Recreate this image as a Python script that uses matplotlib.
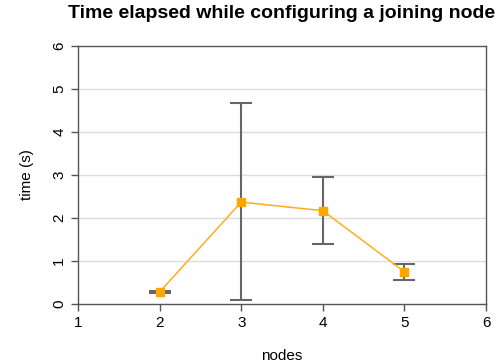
import matplotlib.pyplot as plt
import numpy as np

plt.rcParams['font.family'] = ['Liberation Sans', 'DejaVu Sans']

nodes = [2, 3, 4, 5]
mean_time = [0.28, 2.37, 2.17, 0.75]
low_time = [0.26, 0.09, 1.40, 0.56]
high_time = [0.31, 4.67, 2.96, 0.94]

mean = np.array(mean_time)
yerr = [mean - np.array(low_time), np.array(high_time) - mean]

fig = plt.figure(figsize=(4.99, 3.64), dpi=100)
ax = fig.add_axes([0.1563, 0.1648, 0.8177, 0.7088])

# grid lines
for y in range(1, 6):
    ax.axhline(y, color='#dddddd', lw=1, zorder=0)

ax.errorbar(nodes, mean_time, yerr=yerr, fmt='none', ecolor='#666666',
            elinewidth=1.5, capsize=8, capthick=1.5, zorder=2)
ax.plot(nodes, mean_time, color='#ffad1f', lw=1.1, marker='s', markersize=5.5,
        markerfacecolor='#ffa500', markeredgecolor='#ffa500', zorder=3)

ax.set_xlim(1, 6)
ax.set_ylim(0, 6)
ax.set_xticks(range(1, 7))
ax.set_yticks(range(0, 7))
ax.set_yticklabels([str(i) for i in range(0, 7)], rotation=90, va='center')
for s in ax.spines.values():
    s.set_color('#555555')
    s.set_linewidth(1)
ax.tick_params(colors='#555555', labelcolor='black', labelsize=11, length=5, width=1)

ax.set_xlabel('nodes', fontsize=11, labelpad=14)
ax.set_ylabel('time (s)', fontsize=11, labelpad=13)
ax.set_title('Time elapsed while configuring a joining node', fontsize=14,
             fontweight='bold', pad=20)

fig.savefig('out.png', dpi=100)
